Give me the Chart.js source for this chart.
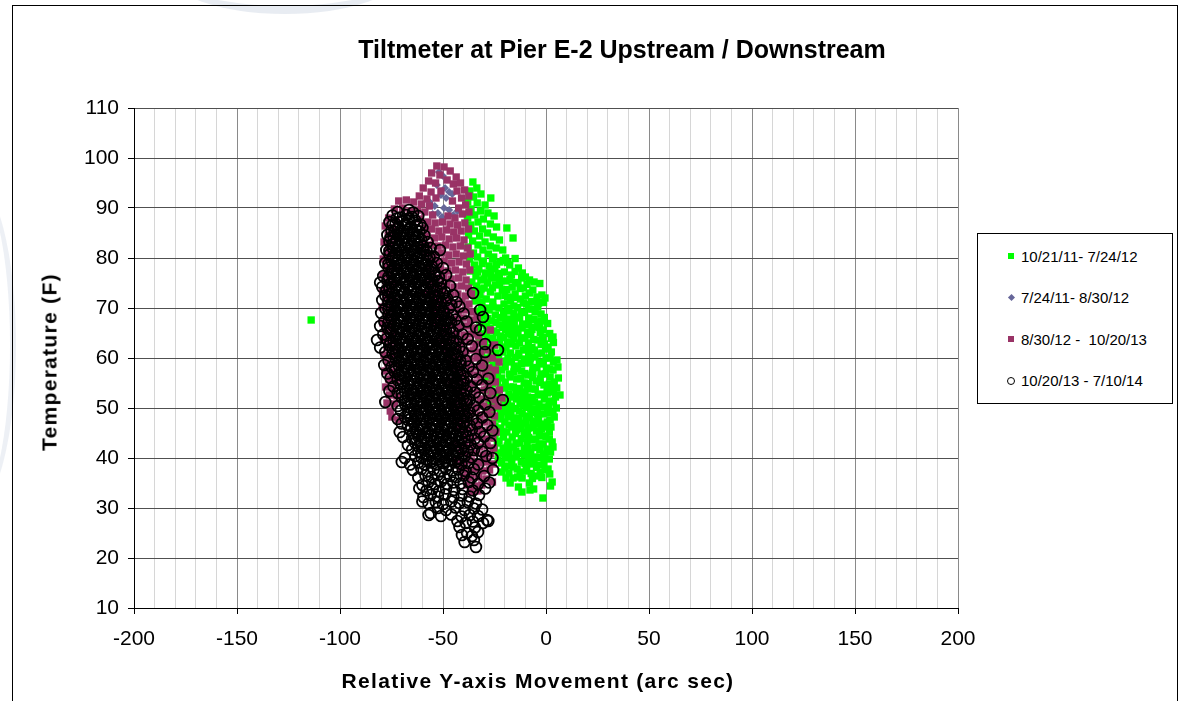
<!DOCTYPE html>
<html>
<head>
<meta charset="utf-8">
<title>Tiltmeter at Pier E-2</title>
<script src="https://cdn.jsdelivr.net/npm/chart.js@4.4.0/dist/chart.umd.min.js"></script>
<style>
  html, body { margin: 0; padding: 0; background: #fff; }
  #wrap { position: relative; width: 1182px; height: 701px; overflow: hidden; font-family: "Liberation Sans", Arial, sans-serif; color: #000; }
  #frame { position: absolute; left: 12px; top: 5px; width: 1164px; height: 720px; border: 1px solid #000; }
  #swoosh { position: absolute; left: 170px; top: -66px; width: 230px; height: 72px; border-radius: 50%; border-bottom: 8px solid rgba(210, 218, 230, 0.5); }
  #swoosh2 { position: absolute; left: -70px; top: 180px; width: 80px; height: 330px; border-radius: 50%; border-right: 6px solid rgba(215, 222, 232, 0.45); }
  #chartBox { position: absolute; left: 0; top: 0; width: 1182px; height: 701px; }
  .lbl { position: absolute; white-space: pre; transform: translate(-50%, -50%); font-weight: bold; }
  #title { left: 622px; top: 49px; font-size: 25px; line-height: 25px; }
  #xTitle { left: 538px; top: 680px; font-size: 21px; line-height: 21px; letter-spacing: 1.3px; }
  #yTitle { left: 49px; top: 362px; font-size: 21px; line-height: 21px; letter-spacing: 1.3px; transform: translate(-50%, -50%) rotate(-90deg); }
  #legend { position: absolute; left: 977px; top: 233px; width: 194px; height: 169px; border: 1px solid #000; background: #fff; }
  .item { position: absolute; white-space: pre; font-size: 15px; line-height: 15px; transform: translateY(-50%); }
  .mk { position: absolute; box-sizing: border-box; }
</style>
</head>
<body>
<div id="wrap">
  <div id="swoosh"></div>
  <div id="swoosh2"></div>
  <div id="frame"></div>
  <div id="chartBox"><canvas id="tiltChart"></canvas></div>
  <div id="title" class="lbl">Tiltmeter at Pier E-2 Upstream / Downstream</div>
  <div id="xTitle" class="lbl">Relative Y-axis Movement (arc sec)</div>
  <div id="yTitle" class="lbl">Temperature (F)</div>
  <div id="legend"></div>
</div>
<script>
// Series names, in legend order
const seriesLabels = ['10/21/11- 7/24/12', '7/24/11- 8/30/12', '8/30/12 -  10/20/13', '10/20/13 - 7/10/14'];

// Axis ranges (arc sec / deg F)
const xMin = -200, xMax = 200, xStep = 10, xLabelEvery = 50;
const yMin = 10, yMax = 110, yStep = 10;

// 10/21/11 - 7/24/12 : [movement, temperature]
const greenPts = [
  [-35.5,95.2],[-33.6,94],[-37,93.4],[-31.6,92.8],[-35.2,92.2],[-26.8,92],[-38,91.2],[-33.4,91],[-29.6,90.6],
  [-36.4,89.8],[-31.8,89.4],[-28.2,89],[-34.6,88.6],[-38,88],[-30.4,87.8],[-25.2,88.4],[-33,87.2],[-27,86.8],[-36.5,86.6],
  [-24,86.2],[-19,86],[-30.8,85.8],[-34.8,85.4],[-28.4,85],[-37.6,84.6],[-32.2,84.4],[-25.6,84.2],[-16,84],
  [-35.6,83.4],[-29.6,83.2],[-22.6,83.6],[-33,82.6],[-27,82.4],[-37.8,82.2],[-24.2,82],[-21,81.6],[-30.6,81.6],
  [-35.2,81],[-28,80.8],[-33.2,80.2],[-25.4,80.2],[-19.6,80],[-37,79.8],[-30.4,79.4],[-22.4,79.2],[-17.6,78.6],
  [-34.8,78.6],[-27.6,78.4],[-32.6,77.8],[-24.8,77.8],[-13.4,78],[-36.6,77.4],[-20.2,77.2],[-29.4,77],[-16.8,76.6],
  [-34,76.4],[-26.6,76.2],[-22.6,76],[-10,76.2],[-31.6,75.6],[-36,75.2],[-19.4,75.4],[-5.8,75.2],[-28.4,75],[-13.6,75],
  [-24.6,74.6],[-33.6,74.4],[-16.4,74.2],[-30,74],[-11,74],[-21.2,73.6],[-35.2,73.4],[-27,73.2],[-8,73],[-15,72.8],
  [-32,72.6],[-23.4,72.4],[-18.6,72.2],[-0.5,72],[-12.4,71.8],[-29,71.8],[-34.4,71.4],[-25.8,71.2],[-3.6,71],[-20.4,70.8],
  [-9.4,70.8],[-31.2,70.4],[-15.6,70.4],[-22.8,70],[-6.6,69.8],[-27.6,69.6],[-33.2,69.4],[-18,69.4],[-12,69.2],[-5.3,69.2],
  [-24.6,68.6],[-29.8,68.4],[-14.8,68.2],[-20.6,68],[-8.4,68],[-32.2,67.6],[-26.6,67.4],[-2.5,67.4],[-17.2,67],[-11.4,66.8],
  [-22.6,66.6],[-29,66.4],[-5.6,66.2],[-33,66],[-14.2,65.8],[-1.5,65.6],[-19.6,65.6],[-25.6,65.4],[-9,65.2],[-30.6,64.8],
  [-16.6,64.6],[3.4,64.2],[-22.2,64.4],[-12,64],[-27.8,63.8],[-4.2,63.6],[-32.4,63.4],[-18.8,63.2],[-8.6,63],[-0.8,62.8],
  [-24.8,62.6],[-14.6,62.4],[-29.6,62.2],[1,62.2],[-21,61.8],[-5.6,61.6],[-11,61.6],[-26.6,61.2],[-2,61],[-17.2,61],
  [-31.4,60.6],[-13.4,60.4],[-23,60.2],[-7.6,60],[2,60],[-28.4,59.6],[5.3,59.6],[-19.4,59.4],[-3.2,59.2],[-10,59],
  [-25.4,58.6],[-15.4,58.4],[-30.6,58.2],[-6.4,58],[0.2,58],[-21.6,57.6],[3.4,57.6],[-12,57.4],[-27.4,57.2],[-17.8,56.8],
  [-2.4,56.8],[-8.8,56.6],[-23.6,56.4],[-29.6,56],[-14.2,55.8],[-4.8,55.4],[4,55.2],[-19.8,55.2],[-10.6,55],[-26,54.8],
  [-1,54.6],[-15.8,54.2],[3,54],[-22.2,54],[-7,53.8],[-28.8,53.6],[-12.4,53.2],[0.6,53],[-18,52.8],[-3.8,52.6],[6.8,52.6],
  [-24.6,52.4],[-9,52.2],[-14.4,51.8],[-20.6,51.6],[1.6,51.4],[-5.6,51.2],[-27.6,51],[-11,50.6],[-16.8,50.4],[-1.5,50.2],
  [-23.4,50],[-7.4,49.8],[-13,49.4],[-19.4,49.2],[0.8,49],[-4.2,48.8],[-26.4,48.6],[-9.8,48.4],[2,47.6],[-15.6,48],
  [-21.8,47.8],[-6.2,47.4],[-11.8,47],[-2.6,46.8],[-18,46.6],[-24.8,46.4],[0.4,46.2],[-8.4,46],[-14.2,45.6],[-4.6,45.4],
  [-20.6,45.2],[-26.6,44.8],[-10.6,44.6],[-1.6,44.4],[-16.4,44.2],[1.6,43.8],[-6.8,43.6],[-22.8,43.4],[-12.8,43],[-3.4,42.8],
  [3.4,42.2],[-18.8,42.4],[-8.6,42],[-25,41.8],[-3,41.6],[-14.6,41.4],[-20.8,41],[-10.4,40.6],[-5.4,40.2],[-0.5,40],
  [-16.8,40],[-23.2,39.6],[-12,39.2],[-7.8,38.8],[-2.6,38.6],[-18.6,38.4],[-14,37.8],[-0.5,37.6],[-9.6,37.4],[-21.6,37.2],
  [-16,36],[-5,36.4],[3,35.2],[-11.6,36],[-17.4,35],[-8,35],[2.2,34.4],[-13.4,34.2],[-6,33.8],[-11.7,33.2],[-7.8,33.6],[-1.5,32],
  [-114,67.6],
  [-26,79.8],[-20.8,79.5],[-15,79.9],[-31,78.9],[-24,78.7],[-18.6,79.1],[-33.2,77.2],[-26.8,77.4],[-23,76.9],[-15,77.3],[-11.5,77],
  [-30,75.8],[-25,76],[-17.5,75.7],[-11.8,76],[-8,75.6],[-22.4,74.9],[-14.8,75.1],[-9.2,74.7],[-3,74.9],[-31.5,73.8],[-26,74],
  [-19,73.7],[-12.6,73.9],[-6.4,73.6],[-33.6,72.3],[-20,72.5],[-15.8,72.1],[-10,72.4],[-4.4,72.2],[-2,72.6],[-31.2,71.2],[-17.2,71.4],
  [-11,71],[-7,71.3],[-1.2,71.1],[-29,70],[-25.8,70.2],[-18.6,69.9],[-13.8,70.1],[-8.4,69.8],[-4,70.2],[-30.6,69],[-20.6,69.2],
  [-15.6,68.9],[-10.4,69.1],[-2.4,68.8],[-28.2,67.9],[-22.2,68.1],[-17.6,67.8],[-12.8,68],[-5.8,67.7],[-0.8,68.1],[-30.8,66.9],
  [-24.2,67.1],[-19.6,66.8],[-15.4,67],[-8.6,66.7],[-4,67.1],[0.8,66.9],[-27.4,65.9],[-21,66.1],[-16.8,65.8],[-11.6,66],[-6.8,65.7],
  [-3,66.1],[-29,64.9],[-24,65.1],[-18.2,64.8],[-13.6,65],[-7.4,64.7],[-2.8,65.1],[1.8,64.9],[-25.8,63.9],[-20.6,64.1],[-15.6,63.8],
  [-10.2,64],[-6.2,63.7],[-1.6,64.1],[2.6,63.9],[-29.8,62.9],[-22.6,63.1],[-16.8,62.8],[-12.8,63],[-2.4,62.7],[3.6,63.1],[-27.2,62],
  [-19.4,62.2],[-9.6,61.9],[-6.8,62.1],[-0.2,61.8],[-24.6,61],[-20.8,61.2],[-13.2,60.9],[-8.4,61.1],[-4,60.8],[2.6,61.2],[-29.6,60],
  [-26,60.2],[-18.4,59.9],[-15,60.1],[-10.4,59.8],[-5.4,60.2],[0,60],[-23.8,59],[-16.8,59.2],[-12,58.9],[-7.8,59.1],[-1.4,58.8],
  [3.6,59.2],[-28.6,58],[-19.8,58.2],[-13.8,57.9],[-4.4,58.1],[1.8,57.8],[5.8,58.2],[-25,57],[-15.6,57.2],[-10.2,56.9],[-6.4,57.1],
  [-0.2,56.8],[-21.6,56],[-17.4,56.2],[-12.2,55.9],[-6.6,56.1],[-2.8,55.8],[2,56.2],[6,56],[-27.6,55],[-23.6,55.2],[-8.6,54.9],
  [-3,55.1],[1.6,54.8],[-20.2,54],[-17.4,54.2],[-12.6,53.9],[-9,54.1],[-5.2,53.8],[0.6,54.2],[5.2,54],[-26.6,53],[-23.4,53.2],
  [-14.6,52.9],[-10.2,53.1],[-1.6,52.8],[3.6,53.2],[-20.4,52],[-16.2,52.2],[-11.2,51.9],[-6.6,52.1],[-0.8,51.8],[4.6,52.2],
  [-25.8,51],[-18.6,51.2],[-12.6,50.9],[-8.2,51.1],[-3.4,50.8],[3.6,51.2],[-27.4,50],[-19.6,50.2],[-14.6,49.9],[-9.4,50.1],
  [-4.4,49.8],[1.4,50.2],[5,50],[-22,49],[-17,49.2],[-11.6,48.9],[-6.8,49.1],[-1.8,48.8],[3.4,49.2],[-23.4,48],[-18.2,48.2],
  [-13.4,47.9],[-8,48.1],[-3.6,47.8],[4,48.2],[-25.8,47],[-20,47.2],[-15.2,46.9],[-9.6,47.1],[-4.4,46.8],[0.6,47.2],[-22,46],
  [-16.6,46.2],[-12,45.9],[-6.2,46.1],[-2.2,45.8],[2.4,46.2],[-24.4,45],[-19,45.2],[-14.8,44.9],[-9,45.1],[-3.2,44.8],[1.6,45.2],
  [-25,44],[-20.6,44.2],[-12,43.9],[-8.4,44.1],[-5,43.8],[0,44.2],[-23.6,43],[-18.4,43.2],[-14.6,42.9],[-9.2,43.1],[-1.6,42.8],
  [3,43.2],[-20.8,42],[-15.8,42.2],[-10.6,41.9],[-5.2,42.1],[0.4,41.8],[-23,41],[-18,41.2],[-12.6,40.9],[-7.4,41.1],[-1.2,40.8],
  [2.2,41.2],[-19.6,40],[-14.2,40.2],[-8.4,39.9],[-3.4,40.1],[1.6,39.8],[-21.6,39],[-16.6,39.2],[-10.2,38.9],[-5.8,39.1],[-1,38.8],
  [-20,38],[-15.8,38.2],[-9.4,37.9],[-4.6,38.1],[1,37.8],[-18,37],[-12.6,37.2],[-7.2,36.9],[-2.8,37.1],[1.8,36.8],[-19.4,36],
  [-13.8,36.2],[-6.6,35.9],[-2,36.1]
];

// 7/24/11 - 8/30/12
const bluePts = [
  [-52,97.2],[-50,96.4],[-53,94.6],[-49,94],[-47,93.2],[-51,92.6],[-48.5,92],[-45.5,92.8],[-56.5,91.2],
  [-54,90.4],[-49.5,90],[-47,89.6],[-52.5,89],[-45,88.6],[-43,89.4],[-50.5,88.2],[-55,88.8]
];

// 8/30/12 - 10/20/13
const maroonPts = [
  [-53,98.4],[-49.5,98.2],[-46.5,97.4],[-55.5,97],[-51.5,96.6],[-43.6,96.2],[-48,95.6],[-57,95.4],[-53.6,95],[-45,94.8],[-41.5,95],
  [-59.6,94],[-55.8,93.2],[-51,93.4],[-43.2,93.4],[-39.5,93.6],[-61.5,92.4],[-57.8,91.8],[-53.4,92],[-41,92],[-37.5,92.4],[-45.4,91.4],
  [-71.5,91.4],[-67.8,91.6],[-64.2,91.2],[-60.4,90.8],[-56.6,90.4],[-39,90.6],[-42.4,90],[-73.6,89.8],[-69.6,90],[-66,89.4],
  [-62.4,89.6],[-58.8,89.2],[-55,88.6],[-47.6,88.4],[-40.6,88.8],[-37.4,89.2],[-44.2,88],
  [-76.4,88],[-72.8,87.6],[-61,87.8],[-57.4,87.2],[-53.8,87],[-50.2,87.2],[-46.6,86.8],[-43,86.6],[-39.4,87],[-78,86.4],[-74.6,86],
  [-59.2,86],[-55.6,85.8],[-52,85.4],[-48.4,85.6],[-44.8,85.2],[-41.2,85.4],[-37.6,85.8],[-76.6,84.6],[-72.4,84.4],[-57.8,84.4],
  [-54.2,84],[-50.6,84.2],[-47,83.8],[-43.4,84],[-39.8,83.6],
  [-78.6,83.2],[-75,82.8],[-59.6,82.8],[-56,82.6],[-52.4,82.4],[-48.8,82.6],[-45.2,82.2],[-41.6,82.4],[-38,82],[-77,81.4],[-73.4,81.2],
  [-58,81.2],[-54.4,80.8],[-50.8,81],[-47.2,80.6],[-43.6,80.8],[-40,80.4],[-36.8,80.8],[-79,79.8],[-75.4,79.6],[-56.6,79.4],[-53,79.2],
  [-49.4,79.4],[-45.8,79],[-42.2,79.2],[-38.6,78.8],
  [-77.4,78.2],[-73.8,78],[-58,78],[-54.8,77.6],[-51.2,77.8],[-47.6,77.4],[-44,77.6],[-40.4,77.2],[-37,77.6],[-79.2,76.6],[-75.8,76.4],
  [-56.8,76.2],[-53.2,76],[-49.6,76.2],[-46,75.8],[-42.4,76],[-38.8,75.6],[-77.6,75],[-74,74.8],[-55.6,74.6],[-51.8,74.4],[-48.2,74.6],
  [-44.6,74.2],[-41,74.4],[-37.6,74],
  [-79.4,73.4],[-75.8,73.2],[-57,73],[-53.6,72.8],[-50,73],[-46.4,72.6],[-42.8,72.8],[-39.2,72.4],[-36.2,72.8],[-77.8,71.8],[-74.2,71.6],
  [-55.2,71.4],[-51.6,71.2],[-48,71.4],[-44.4,71],[-40.8,71.2],[-37.4,70.8],[-79.6,70.2],[-76,70],[-53.4,69.8],[-49.8,69.6],[-46.2,69.8],
  [-42.6,69.4],[-39,69.6],[-35.6,69.2],[-77.4,68.6],[-73.8,68.4],[-54.6,68.2],[-51,68],[-47.4,68.2],[-43.8,67.8],[-40.2,68],[-36.6,67.6],
  [-33.4,68],[-79.2,67],[-75.6,66.8],[-52.6,66.6],[-49,66.4],[-45.4,66.6],[-41.8,66.2],[-38.2,66.4],[-34.8,66],
  [-77.8,65.4],[-74.2,65.2],[-50.6,65],[-47,64.8],[-43.4,65],[-39.8,64.6],[-36.2,64.8],[-32.8,64.4],[-27,65.6],[-79,63.8],[-75.4,63.6],
  [-51.8,63.4],[-48.2,63.2],[-44.6,63.4],[-41,63],[-37.4,63.2],[-34,62.8],[-30.4,63.2],[-25,62.6],[-77.2,62.2],[-73.8,62],[-49.6,61.8],
  [-46,61.6],[-42.4,61.8],[-38.8,61.4],[-35.2,61.6],[-31.8,61.2],[-28.2,61.6],[-78.6,60.6],[-75,60.4],[-47.6,60.2],[-44,60],[-40.4,60.2],
  [-36.8,59.8],[-33.2,60],[-29.6,59.6],[-26,60],[-22.8,59.2],[-76.8,59],[-73.2,58.8],[-45.8,58.6],[-42.2,58.4],[-38.6,58.6],[-35,58.2],
  [-31.4,58.4],[-27.8,58],[-24.6,57.6],[-78.2,57.4],[-74.6,57.2],[-44,57],[-40.4,56.8],[-36.8,57],[-33.2,56.6],[-29.6,56.8],[-26.2,56.4],
  [-76.4,55.8],[-72.8,55.6],[-46,55.4],[-42.4,55.2],[-38.8,55.4],[-35.2,55],[-31.6,55.2],[-28,54.8],[-24.6,55.2],[-77.8,54.2],[-74.2,54],
  [-44.2,53.8],[-40.6,53.6],[-37,53.8],[-33.4,53.4],[-29.8,53.6],[-26.2,53.2],[-22.6,53.6],[-76,52.6],[-72.4,52.4],[-42.6,52.2],[-39,52],
  [-35.4,52.2],[-31.8,51.8],[-28.2,52],[-24.8,51.6],[-21.4,52],[-77.2,51],[-73.6,50.8],[-44.6,50.6],[-41,50.4],[-37.4,50.6],[-33.8,50.2],
  [-30.2,50.4],[-26.6,50],[-23.2,50.4],[-75.6,49.4],[-42.8,49],[-39.2,48.8],[-35.6,49],[-32,48.6],[-28.4,48.8],[-25,48.4],[-74.8,48.2],
  [-71.8,47.6],[-44,47.4],[-40.4,47.2],[-36.8,47.4],[-33.2,47],[-29.6,47.2],[-26,46.8],[-42,45.8],[-38.4,45.6],[-34.8,45.8],[-31.2,45.4],
  [-27.6,45.6],[-24.2,45.2],[-40,44.2],[-36.4,44],[-32.8,44.2],[-29.2,43.8],[-25.8,44],
  [-43,42.6],[-39.4,42.4],[-35.8,42.6],[-32.2,42.2],[-28.6,42.4],[-25.4,42],[-41.2,41],[-37.6,40.8],[-34,41],[-30.4,40.6],[-26.8,40.8],
  [-43.4,39.4],[-39.8,39.2],[-36.2,39.4],[-32.6,39],[-29,39.2],[-25.6,38.8],[-41.6,37.8],[-38,37.6],[-34.4,37.8],[-30.8,37.4],[-27.4,37.6],
  [-40,36.2],[-36.4,36],[-32.8,36.2],[-29.2,35.8],[-26,35.2],[-38.4,34.6],[-34.8,34.4],[-31.2,34.6],[-36.6,33.2],[-33,33.4]
];

// 10/20/13 - 7/10/14
const blackPts = [
  [-72,89.2],[-66.5,89.6],[-64.5,89.1],
  [-74.5,88.5],[-71,88.1],[-68,88.6],[-65,88.2],[-62,88.4],
  [-76,87.2],[-73,86.8],[-70,87.3],[-67,86.9],[-64,87.1],[-61,86.7],
  [-75,85.5],[-72,85.9],[-69,85.4],[-66,85.8],[-63,85.6],[-60,86],
  [-77,84.6],[-74,84.2],[-71,84.5],[-68,84.1],[-65,84.6],[-62,84.3],[-59,84.5],
  [-76,83.3],[-73,82.9],[-70,83.2],[-67,82.8],[-64,83.3],[-61,83],[-57.5,83.2],
  [-77.5,81.6],[-74.5,82],[-71.5,81.7],[-68.5,82.1],[-65.5,81.6],[-62.5,81.9],[-59.5,81.7],[-56,82],[-51.5,81.6],
  [-76,80.7],[-73,80.3],[-70,80.6],[-67,80.2],[-64,80.7],[-61,80.4],[-58,80.6],[-54.5,80.3],
  [-78,79],[-75,79.4],[-72,79.1],[-69,79.5],[-66,79],[-63,79.3],[-60,79.1],[-57,79.4],[-53,79],
  [-76.5,78.1],[-73.5,77.7],[-70.5,78],[-67.5,77.6],[-64.5,78.1],[-61.5,77.8],[-58.5,78],[-55.5,77.7],[-50,78],
  [-79,76.4],[-75,76.8],[-72,76.5],[-69,76.9],[-66,76.4],[-63,76.7],[-60,76.5],[-57,76.8],[-54,76.4],[-48.5,76.6],
  [-80.5,75.1],[-77,75.5],[-74,75.2],[-71,75.6],[-68,75.1],[-65,75.4],[-62,75.2],[-59,75.5],[-56,75.1],[-52.5,75.4],
  [-79.5,74.2],[-76,73.8],[-73,74.1],[-70,73.7],[-67,74.2],[-64,73.9],[-61,74.1],[-58,73.8],[-55,74.2],[-51,73.9],[-46.6,74.4],[-35.4,73],
  [-78,72.5],[-75,72.9],[-72,72.6],[-69,73],[-66,72.5],[-63,72.8],[-60,72.6],[-57,72.9],[-54,72.5],[-50,72.8],[-45,72.6],
  [-79.5,71.6],[-76.5,71.2],[-73.5,71.5],[-70.5,71.1],[-67.5,71.6],[-64.5,71.3],[-61.5,71.5],[-58.5,71.2],[-55.5,71.6],[-52.5,71.3],[-48.5,71.5],[-43.5,71.2],
  [-78,69.9],[-75,70.3],[-72,70],[-69,70.4],[-66,69.9],[-63,70.2],[-60,70],[-57,70.3],[-54,69.9],[-51,70.2],[-47,70],[-42,70.3],[-32,69.6],
  [-80,69],[-76.5,68.6],[-73.5,68.9],[-70.5,68.5],[-67.5,69],[-64.5,68.7],[-61.5,68.9],[-58.5,68.6],[-55.5,69],[-52.5,68.7],[-49.5,68.9],[-45.5,68.6],[-40,68.9],[-30.6,68.2],
  [-78.5,67.3],[-75,67.7],[-72,67.4],[-69,67.8],[-66,67.3],[-63,67.6],[-60,67.4],[-57,67.7],[-54,67.3],[-51,67.6],[-48,67.4],[-44,67.7],[-38.5,67.3],
  [-80.5,66.4],[-77,66],[-74,66.3],[-71,65.9],[-68,66.4],[-65,66.1],[-62,66.3],[-59,66],[-56,66.4],[-53,66.1],[-50,66.3],[-46.5,66],[-42.5,66.4],[-34,66.1],
  [-79,64.7],[-75.5,65.1],[-72.5,64.8],[-69.5,65.2],[-66.5,64.7],[-63.5,65],[-60.5,64.8],[-57.5,65.1],[-54.5,64.7],[-51.5,65],[-48.5,64.8],[-45,65.1],[-40.5,64.7],[-32,65.6],
  [-82,63.6],[-77.5,63.8],[-74,63.4],[-71,63.7],[-68,63.3],[-65,63.8],[-62,63.5],[-59,63.7],[-56,63.4],[-53,63.8],[-50,63.5],[-47,63.7],[-43.5,63.4],[-38,63.8],[-29.6,62.8],
  [-80.5,62.1],[-76,62.5],[-73,62.2],[-70,62.6],[-67,62.1],[-64,62.4],[-61,62.2],[-58,62.5],[-55,62.1],[-52,62.4],[-49,62.2],[-46,62.5],[-42,62.1],[-36,62.4],
  [-78,61.2],[-74.5,60.8],[-71.5,61.1],[-68.5,60.7],[-65.5,61.2],[-62.5,60.9],[-59.5,61.1],[-56.5,60.8],[-53.5,61.2],[-50.5,60.9],[-47.5,61.1],[-44.5,60.8],[-40.5,61.2],[-23.3,61.6],[-29.6,61.2],
  [-76.5,59.5],[-73,59.9],[-70,59.6],[-67,60],[-64,59.5],[-61,59.8],[-58,59.6],[-55,59.9],[-52,59.5],[-49,59.8],[-46,59.6],[-43,59.9],[-39,59.5],[-34,59.8],
  [-78.5,58.6],[-75,58.2],[-71.5,58.5],[-68.5,58.1],[-65.5,58.6],[-62.5,58.3],[-59.5,58.5],[-56.5,58.2],[-53.5,58.6],[-50.5,58.3],[-47.5,58.5],[-44.5,58.2],[-41.5,58.6],[-37.5,58.3],[-31,58.5],
  [-77,56.9],[-73.5,57.3],[-70,57],[-67,57.4],[-64,56.9],[-61,57.2],[-58,57],[-55,57.3],[-52,56.9],[-49,57.2],[-46,57],[-43,57.3],[-40,56.9],[-35.5,57.2],
  [-75.5,56],[-72,55.6],[-68.5,55.9],[-65.5,55.5],[-62.5,56],[-59.5,55.7],[-56.5,55.9],[-53.5,55.6],[-50.5,56],[-47.5,55.7],[-44.5,55.9],[-41.5,55.6],[-38.5,56],[-33.5,55.7],[-28,55.9],
  [-74,54.3],[-70.5,54.7],[-67,54.4],[-64,54.8],[-61,54.3],[-58,54.6],[-55,54.4],[-52,54.7],[-49,54.3],[-46,54.6],[-43,54.4],[-40,54.7],[-36.5,54.3],[-31,54.6],
  [-76,53.4],[-72,53],[-68.5,53.3],[-65.5,52.9],[-62.5,53.4],[-59.5,53.1],[-56.5,53.3],[-53.5,53],[-50.5,53.4],[-47.5,53.1],[-44.5,53.3],[-41.5,53],[-38.5,53.4],[-34.5,53.1],[-27,53],
  [-78,51.2],[-70,52.1],[-67,51.7],[-64,52],[-61,51.6],[-58,52.1],[-55,51.8],[-52,52],[-49,51.7],[-46,52.1],[-43,51.8],[-40,52],[-37,51.7],[-32.5,52.1],[-21,51.6],
  [-72,50.4],[-68.5,50.8],[-65.5,50.5],[-62.5,50.9],[-59.5,50.4],[-56.5,50.7],[-53.5,50.5],[-50.5,50.8],[-47.5,50.4],[-44.5,50.7],[-41.5,50.5],[-38.5,50.8],[-35,50.4],[-29.5,50.7],
  [-70.5,49.5],[-67,49.1],[-64,49.4],[-61,49],[-58,49.5],[-55,49.2],[-52,49.4],[-49,49.1],[-46,49.5],[-43,49.2],[-40,49.4],[-37,49.1],[-33,49.5],[-27.5,49.2],
  [-72,47.8],[-68.5,48.2],[-65.5,47.9],[-62.5,48.3],[-59.5,47.8],[-56.5,48.1],[-53.5,47.9],[-50.5,48.2],[-47.5,47.8],[-44.5,48.1],[-41.5,47.9],[-38.5,48.2],[-35.5,47.8],[-31,48.1],
  [-70,46.9],[-67,46.5],[-64,46.8],[-61,46.4],[-58,46.9],[-55,46.6],[-52,46.8],[-49,46.5],[-46,46.9],[-43,46.6],[-40,46.8],[-37,46.5],[-33.5,46.9],[-28.5,46.6],
  [-71,45.2],[-66,45.6],[-63,45.3],[-60,45.7],[-57,45.2],[-54,45.5],[-51,45.3],[-48,45.6],[-45,45.2],[-42,45.5],[-39,45.3],[-36,45.6],[-32,45.2],[-26,45.5],
  [-69.4,44.2],[-65,43.9],[-62,44.3],[-59,43.9],[-56,44.3],[-53,44],[-50,44.2],[-47,43.9],[-44,44.3],[-41,44],[-38,44.2],[-34.5,43.9],[-30,44.3],
  [-67,42.6],[-63.5,43],[-60.5,42.7],[-57.5,43.1],[-54.5,42.6],[-51.5,42.9],[-48.5,42.7],[-45.5,43],[-42.5,42.6],[-39.5,42.9],[-36.5,42.7],[-33,43],[-27,43],
  [-65,41.7],[-62,41.3],[-59,41.6],[-56,41.2],[-53,41.7],[-50,41.4],[-47,41.6],[-44,41.3],[-41,41.7],[-38,41.4],[-35,41.6],[-31,41.3],
  [-68.5,40],[-63.5,40.4],[-60.5,40.1],[-57.5,40.5],[-54.5,40],[-51.5,40.3],[-48.5,40.1],[-45.5,40.4],[-42.5,40],[-39.5,40.3],[-36,40.1],[-29,40.4],[-26,40],
  [-70,39.2],[-66,38.7],[-62,39.1],[-59,38.7],[-56,39.1],[-53,38.8],[-50,39],[-47,38.7],[-44,39.1],[-41,38.8],[-37.5,39],[-33,38.7],
  [-64.6,37.6],[-60.5,37.8],[-57.5,37.4],[-54.5,37.7],[-51.5,37.3],[-48.5,37.8],[-45.5,37.5],[-42.5,37.7],[-39,37.4],[-35,37.8],[-25.7,37.6],
  [-62,36.1],[-58.5,36.5],[-55.5,36.2],[-52.5,36.6],[-49.5,36.1],[-46.5,36.4],[-43.5,36.2],[-40,36.5],[-36,36.1],[-30,36.4],
  [-60,34.6],[-57,35.2],[-54,34.8],[-51,35.3],[-48,34.8],[-45,35.1],[-41.5,34.9],[-37.5,35.2],[-33,34.8],[-27.5,35.1],
  [-61.5,33.9],[-58,33.5],[-55,33.8],[-52,33.4],[-48.5,33.9],[-44.5,33.6],[-40.5,33.8],[-35.5,33.5],[-29.5,33.9],
  [-59.5,32.2],[-56,32.6],[-52.5,32.3],[-49,32.7],[-45,32.2],[-41,32.5],[-37,32.3],[-32.5,32.6],
  [-60,31.3],[-57,30.9],[-53.5,31.2],[-50,30.8],[-46,31.3],[-42,31],[-38,31.2],[-34,30.9],
  [-56,29],[-52.5,30],[-48.5,29.6],[-44,30.1],[-39.5,29.6],[-35,29.9],[-31,29.7],
  [-57,28.6],[-51,28.4],[-46,28.7],[-41,28.3],[-37,28.6],[-33,28.4],[-28.6,27.6],
  [-43,27.4],[-39,27],[-35.5,27.3],[-30.6,27],[-28,27.4],
  [-42,26.2],[-38.3,25],[-34.5,26.1],
  [-40.8,24.6],[-36,24.4],[-33,25.2],
  [-39.5,23.2],[-35,23.6],
  [-34,22.2],
  // dense core
  [-72.5,87.9],[-69.5,87.5],[-66.5,87.9],[-63.5,87.5],
  [-74.5,86.6],[-71.5,86.2],[-68.5,86.6],[-65.5,86.2],[-62.5,86.6],
  [-73.5,85.3],[-70.5,84.9],[-67.5,85.3],[-64.5,84.9],[-61.5,85.3],
  [-75.5,84],[-72.5,83.6],[-69.5,84],[-66.5,83.6],[-63.5,84],[-60.5,83.6],
  [-74.5,82.7],[-71.5,82.3],[-68.5,82.7],[-65.5,82.3],[-62.5,82.7],[-59.5,82.3],
  [-76,81.4],[-73,81],[-70,81.4],[-67,81],[-64,81.4],[-61,81],[-58,81.4],
  [-74.5,80.1],[-71.5,79.7],[-68.5,80.1],[-65.5,79.7],[-62.5,80.1],[-59.5,79.7],[-56.5,80.1],
  [-76.5,78.8],[-73.5,78.4],[-70.5,78.8],[-67.5,78.4],[-64.5,78.8],[-61.5,78.4],[-58.5,78.8],[-55.5,78.4],
  [-75,77.5],[-72,77.1],[-69,77.5],[-66,77.1],[-63,77.5],[-60,77.1],[-57,77.5],[-54,77.1],
  [-76.5,76.2],[-73.5,75.8],[-70.5,76.2],[-67.5,75.8],[-64.5,76.2],[-61.5,75.8],[-58.5,76.2],[-55.5,75.8],[-52,76.2],
  [-75.5,74.9],[-72.5,74.5],[-69.5,74.9],[-66.5,74.5],[-63.5,74.9],[-60.5,74.5],[-57.5,74.9],[-54.5,74.5],[-51,74.9],
  [-77.5,73.6],[-74.5,73.2],[-71.5,73.6],[-68.5,73.2],[-65.5,73.6],[-62.5,73.2],[-59.5,73.6],[-56.5,73.2],[-53,73.6],[-49,73.2],
  [-76.5,72.3],[-73.5,71.9],[-70.5,72.3],[-67.5,71.9],[-64.5,72.3],[-61.5,71.9],[-58.5,72.3],[-55.5,71.9],[-52,72.3],[-48,71.9],
  [-75,71],[-72,70.6],[-69,71],[-66,70.6],[-63,71],[-60,70.6],[-57,71],[-54,70.6],[-51,71],[-46,70.6],
  [-76.5,69.7],[-73.5,69.3],[-70.5,69.7],[-67.5,69.3],[-64.5,69.7],[-61.5,69.3],[-58.5,69.7],[-55.5,69.3],[-52.5,69.7],[-49.5,69.3],
  [-75,68.4],[-72,68],[-69,68.4],[-66,68],[-63,68.4],[-60,68],[-57,68.4],[-54,68],[-51,68.4],[-47.5,68],
  [-76.5,67.1],[-73.5,66.7],[-70.5,67.1],[-67.5,66.7],[-64.5,67.1],[-61.5,66.7],[-58.5,67.1],[-55.5,66.7],[-52.5,67.1],[-49.5,66.7],[-46,67.1],
  [-75.5,65.8],[-72.5,65.4],[-69.5,65.8],[-66.5,65.4],[-63.5,65.8],[-60.5,65.4],[-57.5,65.8],[-54.5,65.4],[-51.5,65.8],[-48.5,65.4],
  [-73.5,64.5],[-70.5,64.1],[-67.5,64.5],[-64.5,64.1],[-61.5,64.5],[-58.5,64.1],[-55.5,64.5],[-52.5,64.1],[-49.5,64.5],[-46.5,64.1],
  [-75.5,63.2],[-72.5,62.8],[-69.5,63.2],[-66.5,62.8],[-63.5,63.2],[-60.5,62.8],[-57.5,63.2],[-54.5,62.8],[-51.5,63.2],[-48.5,62.8],[-45,63.2],
  [-74.5,61.9],[-71.5,61.5],[-68.5,61.9],[-65.5,61.5],[-62.5,61.9],[-59.5,61.5],[-56.5,61.9],[-53.5,61.5],[-50.5,61.9],[-47.5,61.5],[-44,61.9],
  [-73,60.6],[-70,60.2],[-67,60.6],[-64,60.2],[-61,60.6],[-58,60.2],[-55,60.6],[-52,60.2],[-49,60.6],[-46,60.2],[-43,60.6],
  [-71.5,59.3],[-68.5,58.9],[-65.5,59.3],[-62.5,58.9],[-59.5,59.3],[-56.5,58.9],[-53.5,59.3],[-50.5,58.9],[-47.5,59.3],[-44.5,58.9],[-41.5,59.3],
  [-73,58],[-70,57.6],[-67,58],[-64,57.6],[-61,58],[-58,57.6],[-55,58],[-52,57.6],[-49,58],[-46,57.6],[-43,58],
  [-71.5,56.7],[-68.5,56.3],[-65.5,56.7],[-62.5,56.3],[-59.5,56.7],[-56.5,56.3],[-53.5,56.7],[-50.5,56.3],[-47.5,56.7],[-44.5,56.3],[-41.5,56.7],
  [-70,55.4],[-67,55],[-64,55.4],[-61,55],[-58,55.4],[-55,55],[-52,55.4],[-49,55],[-46,55.4],[-43,55],[-40,55.4],
  [-69,54.1],[-65.5,53.7],[-62.5,54.1],[-59.5,53.7],[-56.5,54.1],[-53.5,53.7],[-50.5,54.1],[-47.5,53.7],[-44.5,54.1],[-41.5,53.7],
  [-70,52.8],[-67,52.4],[-64,52.8],[-61,52.4],[-58,52.8],[-55,52.4],[-52,52.8],[-49,52.4],[-46,52.8],[-43,52.4],[-40,52.8],
  [-68.5,51.5],[-65.5,51.1],[-62.5,51.5],[-59.5,51.1],[-56.5,51.5],[-53.5,51.1],[-50.5,51.5],[-47.5,51.1],[-44.5,51.5],[-41.5,51.1],[-38.5,51.5],
  [-67,50.2],[-64,49.8],[-61,50.2],[-58,49.8],[-55,50.2],[-52,49.8],[-49,50.2],[-46,49.8],[-43,50.2],[-40,49.8],
  [-66.5,48.9],[-63.5,48.5],[-60.5,48.9],[-57.5,48.5],[-54.5,48.9],[-51.5,48.5],[-48.5,48.9],[-45.5,48.5],[-42.5,48.9],[-39.5,48.5],
  [-67,47.6],[-64,47.2],[-61,47.6],[-58,47.2],[-55,47.6],[-52,47.2],[-49,47.6],[-46,47.2],[-43,47.6],[-40,47.2],
  [-65.5,46.3],[-62.5,45.9],[-59.5,46.3],[-56.5,45.9],[-53.5,46.3],[-50.5,45.9],[-47.5,46.3],[-44.5,45.9],[-41.5,46.3],
  [-64.5,45],[-61.5,44.6],[-58.5,45],[-55.5,44.6],[-52.5,45],[-49.5,44.6],[-46.5,45],[-43.5,44.6],[-40.5,45],
  [-63.5,43.7],[-60.5,43.3],[-57.5,43.7],[-54.5,43.3],[-51.5,43.7],[-48.5,43.3],[-45.5,43.7],[-42.5,43.3],
  [-62,42.4],[-59,42],[-56,42.4],[-53,42],[-50,42.4],[-47,42],[-44,42.4],[-41,42],
  [-60.5,41.1],[-57.5,40.7],[-54.5,41.1],[-51.5,40.7],[-48.5,41.1],[-45.5,40.7],[-42.5,41.1],
  [-58,39.8],[-55,39.4],[-52,39.8],[-49,39.4],[-46,39.8],[-43,39.4]
];

// Styles for each series (legend order)
const seriesStyles = [
  { shape: 'rect', color: '#00ff00' },
  { shape: 'rectRot', color: '#666699' },
  { shape: 'rect', color: '#993366' },
  { shape: 'circle', color: '#000000' }
];

const FONT = '"Liberation Sans", Arial, sans-serif';

function toXY(pts) {
  return pts.map(p => ({ x: p[0], y: p[1] }));
}

// Build the HTML legend box
function buildLegend() {
  const legend = document.getElementById('legend');
  const rowsY = [22, 63, 105, 146];
  seriesLabels.forEach((label, i) => {
    const mk = document.createElement('div');
    mk.className = 'mk';
    const st = seriesStyles[i];
    if (st.shape === 'rect') {
      mk.style.cssText = `left:30px;top:${rowsY[i] - 3}px;width:6px;height:6px;background:${st.color};`;
    } else if (st.shape === 'rectRot') {
      mk.style.cssText = `left:31px;top:${rowsY[i] - 2.5}px;width:5px;height:5px;background:${st.color};transform:rotate(45deg);`;
    } else {
      mk.style.cssText = `left:29px;top:${rowsY[i] - 3.5}px;width:8px;height:8px;border:1.4px solid ${st.color};border-radius:50%;`;
    }
    legend.appendChild(mk);

    const txt = document.createElement('div');
    txt.className = 'item';
    txt.style.left = '43px';
    txt.style.top = rowsY[i] + 'px';
    txt.textContent = label;
    legend.appendChild(txt);
  });
}

function initChart() {
  const ctx = document.getElementById('tiltChart').getContext('2d');

  const datasets = [
    {
      label: seriesLabels[0],
      data: toXY(greenPts),
      pointStyle: 'rect',
      pointRadius: 5.2,
      pointBackgroundColor: seriesStyles[0].color,
      pointBorderWidth: 0,
      order: 4
    },
    {
      label: seriesLabels[1],
      data: toXY(bluePts),
      pointStyle: 'rectRot',
      pointRadius: 4,
      pointBackgroundColor: seriesStyles[1].color,
      pointBorderWidth: 0,
      order: 3
    },
    {
      label: seriesLabels[2],
      data: toXY(maroonPts),
      pointStyle: 'rect',
      pointRadius: 5.2,
      pointBackgroundColor: seriesStyles[2].color,
      pointBorderWidth: 0,
      order: 2
    },
    {
      label: seriesLabels[3],
      data: toXY(blackPts),
      pointStyle: 'circle',
      pointRadius: 5.4,
      pointBackgroundColor: 'rgba(0,0,0,0)',
      pointBorderColor: seriesStyles[3].color,
      pointBorderWidth: 1.8,
      order: 1
    }
  ];

  new Chart(ctx, {
    type: 'scatter',
    data: { datasets: datasets },
    options: {
      responsive: true,
      maintainAspectRatio: false,
      animation: false,
      events: [],
      layout: { padding: { left: 0, right: 224, top: 108, bottom: 0 } },
      plugins: {
        legend: { display: false },
        title: { display: false },
        tooltip: { enabled: false }
      },
      scales: {
        x: {
          type: 'linear',
          min: xMin,
          max: xMax,
          ticks: {
            stepSize: xStep,
            autoSkip: false,
            maxRotation: 0,
            minRotation: 0,
            padding: 13,
            color: '#000',
            font: { family: FONT, size: 21 },
            callback: v => (v % xLabelEvery === 0 ? v : '')
          },
          grid: {
            color: c => (c.tick && c.tick.value % xLabelEvery === 0 ? '#8a8a8a' : '#d6d6d6'),
            tickColor: c => (c.tick && c.tick.value % xLabelEvery === 0 ? '#000' : 'rgba(0,0,0,0)'),
            tickLength: 6,
            lineWidth: 1
          },
          border: { color: '#000', width: 1 },
          afterFit: scale => { scale.height = 93; }
        },
        y: {
          type: 'linear',
          min: yMin,
          max: yMax,
          ticks: {
            stepSize: yStep,
            padding: 9,
            color: '#000',
            font: { family: FONT, size: 21 }
          },
          grid: {
            color: '#505050',
            tickColor: '#000',
            tickLength: 6,
            lineWidth: 1
          },
          border: { color: '#000', width: 1 },
          afterFit: scale => { scale.width = 134; }
        }
      }
    }
  });
}

buildLegend();
initChart();
</script>
</body>
</html>
